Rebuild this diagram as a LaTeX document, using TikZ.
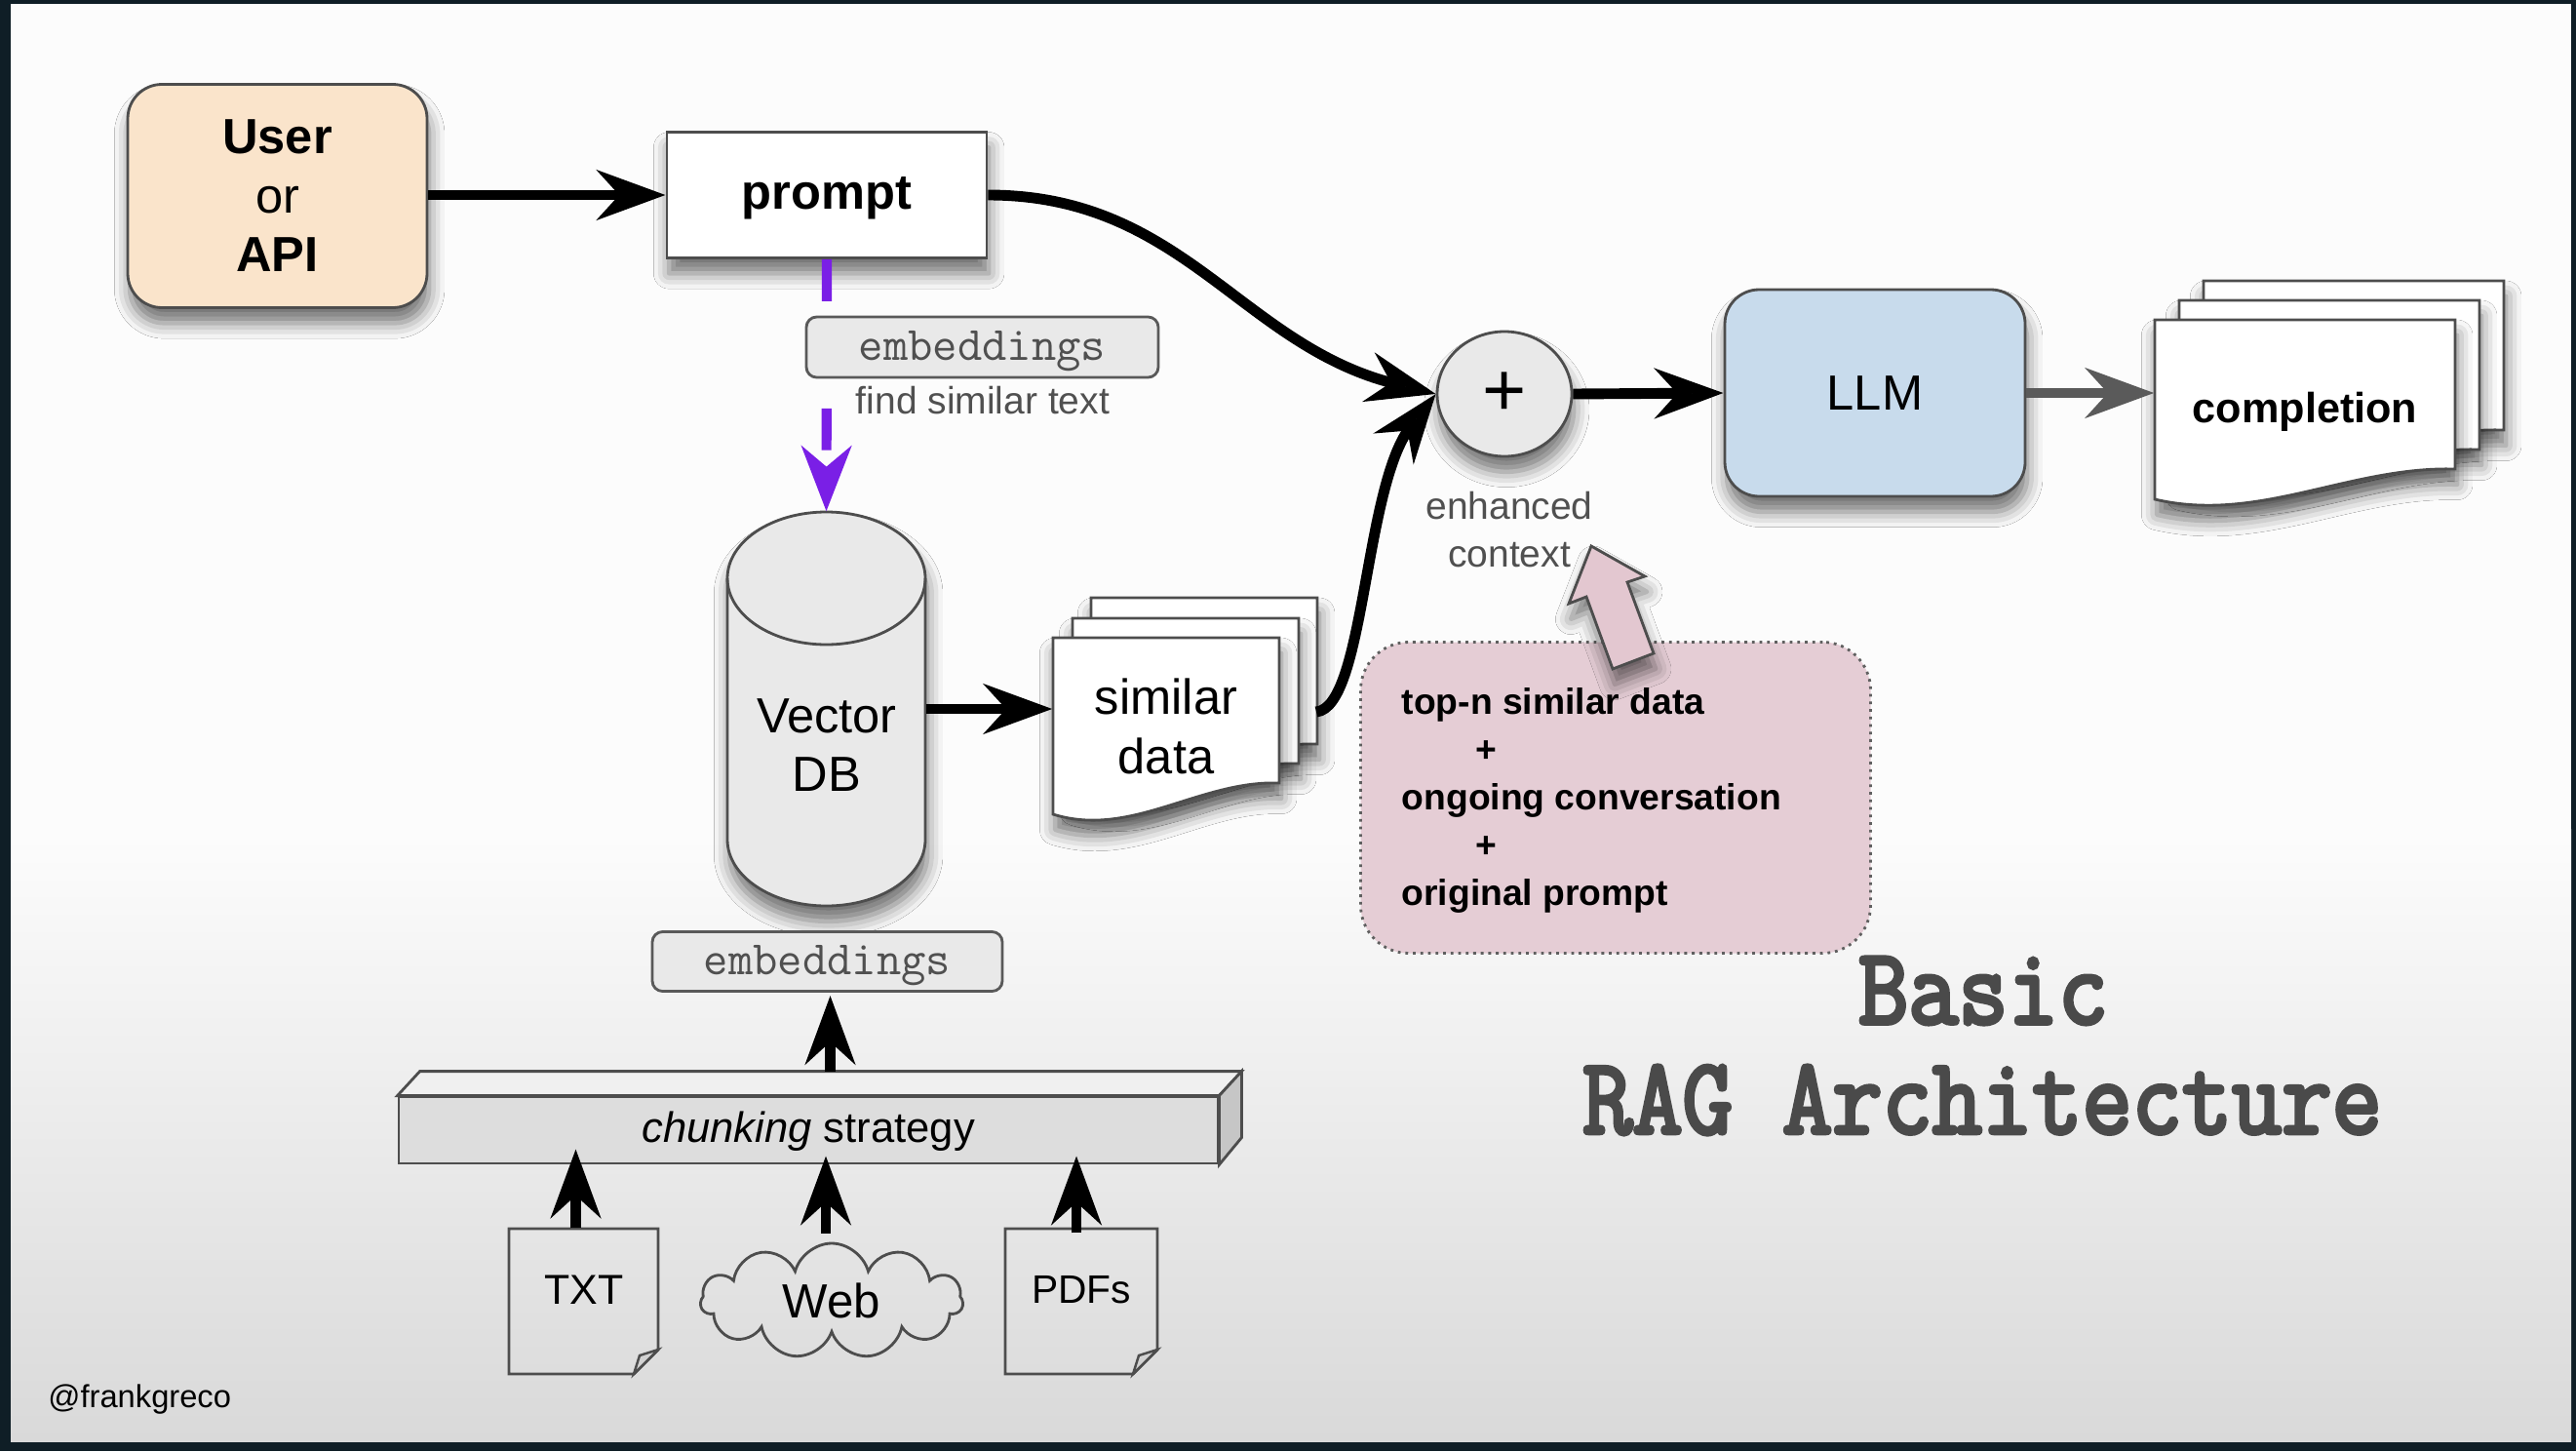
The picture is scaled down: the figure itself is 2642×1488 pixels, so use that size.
\documentclass[tikz,border=0pt]{standalone}
\usepackage{fontspec}
\setmainfont{Liberation Sans}
\setmonofont{Liberation Mono}
\newfontfamily\typefont{Latin Modern Mono}
\usetikzlibrary{arrows.meta,shapes.geometric,shapes.symbols,shadows.blur,calc}
\definecolor{framec}{HTML}{0F1E26}
\definecolor{peach}{HTML}{FAE4CB}
\definecolor{llmblue}{HTML}{C8DBEC}
\definecolor{pinkbox}{HTML}{E5CDD5}
\definecolor{pinkarrow}{HTML}{E3C7D0}
\definecolor{lgray}{HTML}{E9E9E9}
\definecolor{edgec}{HTML}{4D4D4D}
\definecolor{txtgray}{HTML}{505050}
\definecolor{purp}{HTML}{7A1FE6}
\definecolor{titlec}{HTML}{4A4A4A}
\definecolor{bgbot}{HTML}{D9D9D9}
\definecolor{arrgray}{HTML}{5A5A5A}
\newcommand{\heavytext}[2]{\special{pdf:literal direct 2 Tr #1 w}#2\special{pdf:literal direct 0 Tr}}
\newcommand{\wavydoc}[6]{%
  \path[#1] (#2,#3) -- (#2+#4,#3) -- (#2+#4,#6)
    .. controls (#2+0.647*#4,#6-3) and (#2+0.345*#4,#5+25) .. (#2,#5) -- cycle;}
\newcommand{\foldnote}[5]{%
  \path[#1] (#2,#3) -- (#4,#3) -- (#4,#5-25) -- (#4-25,#5) -- (#2,#5) -- cycle;
  \path[fill=gray!35, draw=edgec, line width=0.7pt] (#4,#5-25) -- (#4-25,#5) -- (#4-19,#5-19) -- cycle;}
\begin{document}
\begin{tikzpicture}[x=0.1mm, y=-0.1mm,
  shd/.style={blur shadow={shadow xshift=0.6pt, shadow yshift=-4.5pt, shadow blur radius=4.5pt, shadow opacity=55}},
  edgeline/.style={draw=edgec, line width=0.8pt},
  blkarrow/.style={line width=3.1pt, -{Stealth[length=20pt,width=14.5pt,inset=6.5pt]}},
  grayarrow/.style={blkarrow, draw=arrgray, fill=arrgray},
  purpline/.style={draw=purp, line width=2.9pt, dash pattern=on 12.2pt off 31.3pt, -{Stealth[length=19pt,width=14.5pt,inset=6pt,fill=purp]}},
  bigtext/.style={font=\fontsize{14.4}{17.2}\selectfont, align=center},
  graytext/.style={text=txtgray, font=\fontsize{11.1}{13.7}\selectfont, align=center},
  embsty/.style={edgeline, draw=gray!70!black, fill=lgray, rounded corners=3pt, text=txtgray, font=\typefont\fontsize{14}{16}\selectfont, inner sep=0pt, text height=0.84em, text depth=0.1em},
  docsty/.style={edgeline, fill=white, shd},
  notesty/.style={edgeline, fill=none},
  titlesty/.style={text=titlec, font=\typefont\fontsize{28.3}{32}\selectfont}
]
\useasboundingbox (0,0) rectangle (2642,1488);
% background and frame
\fill[framec] (0,0) rectangle (2642,1488);
\fill[white!98!gray] (11,4) rectangle (2637,851);
\shade[top color=white!98!gray, bottom color=bgbot] (11,850) rectangle (2637,1478);

% User / prompt
\node[bigtext, edgeline, fill=peach, rounded corners=10pt, minimum width=30.7mm, minimum height=22.9mm, shd] (user) at (284.5,201) {\textbf{User}\\or\\\textbf{API}};
\node[bigtext, edgeline, fill=white, minimum width=32.8mm, minimum height=12.9mm, shd, text height=1.05em, text depth=0.21em] (prompt) at (848,200) {\textbf{prompt}};
\draw[blkarrow] (user.east |- prompt.west) -- (prompt.west);

% vector DB cylinder
\path[fill=lgray, edgeline, shd] (746,593) -- (746,861)
  arc[start angle=180, end angle=360, x radius=10.15mm, y radius=6.8mm] -- (949,593)
  arc[start angle=0, end angle=180, x radius=10.15mm, y radius=6.8mm] -- cycle;
\draw[edgeline] (746,593) arc[start angle=180, end angle=360, x radius=10.15mm, y radius=6.8mm];
\node[minimum width=20.3mm, minimum height=40.4mm, inner sep=0pt] (db) at (847.5,727) {};
\node[bigtext] (dbtext) at (848,764) {Vector\\DB};

% purple path prompt -> DB
\draw[purpline] (prompt.south) -- (db.north);
\node[embsty, minimum width=36.1mm, minimum height=6.2mm] (emb1) at (1007.5,356) {embeddings};
\node[graytext] (fst) at (1008,411) {find similar text};

% similar data docs
\wavydoc{docsty}{1119}{613}{232}{795}{763}
\wavydoc{docsty}{1100}{634}{232}{815}{783}
\wavydoc{docsty}{1080}{654}{232}{835}{803}
\node[bigtext, minimum width=23.2mm, inner sep=0pt] (sim) at (1196,745) {similar\\data};
\coordinate (simr) at (1350,730);
\draw[blkarrow] (db.east) -- (db.east -| sim.west);

% plus, LLM, completion
\node[ellipse, edgeline, fill=lgray, minimum width=13.8mm, minimum height=12.8mm, inner sep=0pt, shd, font=\fontsize{22}{22}\selectfont] (plus) at (1543,404) {+};
\draw[blkarrow] (prompt.east) .. controls +(200,0) and +(-200,-50) .. (plus.west);
\draw[blkarrow] (simr) .. controls +(50,-5) and +(-74,96) .. (plus.west);
\node[bigtext, edgeline, fill=llmblue, rounded corners=10pt, minimum width=30.8mm, minimum height=21.2mm, shd] (llm) at (1923,403) {LLM};
\draw[blkarrow] (plus.east) -- (llm.west);
\wavydoc{docsty}{2260}{288}{308}{472}{441}
\wavydoc{docsty}{2235}{308}{308}{492}{461}
\wavydoc{docsty}{2210}{328}{308}{512}{481}
\node[font=\bfseries\fontsize{12.3}{15}\selectfont, minimum width=30.8mm, inner sep=0pt] (comp) at (2364,422) {completion};
\draw[grayarrow] (llm.east) -- (llm.east -| comp.west);
\node[graytext] (enh) at (1548,543) {enhanced\\context};

% context box and pink arrow
\node[draw=gray!75!black, line width=0.8pt, dash pattern=on 0.8pt off 1.4pt, fill=pinkbox, rounded corners=14pt, minimum width=52.3mm, minimum height=31.9mm] (ctx) at (1657,818) {};
\node[anchor=west, align=left, inner sep=0pt, font=\bfseries\fontsize{10.6}{13.9}\selectfont] (ctxt) at (1437,821) {top-n similar data\\\hspace*{21.5pt}+\\ongoing conversation\\\hspace*{21.5pt}+\\original prompt};
\path[fill=pinkarrow, edgeline, shd] (1654,686) -- (1627,612) -- (1609,619) -- (1632,560) -- (1687,591) -- (1669,597) -- (1696,670) -- cycle;

% title
\node[titlesty] (t1) at (2034,1016) {\scalebox{1}[1.12]{\heavytext{1.1}{Basic}}};
\node[titlesty] (t2) at (2033,1128) {\scalebox{1}[1.12]{\heavytext{1.1}{RAG Architecture}}};

% lower part
\node[embsty, minimum width=35.9mm, minimum height=6.1mm] (emb2) at (848.5,986) {embeddings};
\node[minimum width=84mm, minimum height=6.8mm, inner sep=0pt, edgeline, fill=lgray!95!black] (bar) at (829,1159) {};
\path[edgeline, fill=lgray!70!white] (bar.north west) -- ++(23,-25) -- ($(bar.north east)+(23,-25)$) -- (bar.north east) -- cycle;
\path[edgeline, fill=gray!45] (bar.north east) -- ++(23,-25) -- ++(0,68) -- (bar.south east) -- cycle;
\node[font=\fontsize{12.4}{15}\selectfont] (bartext) at (829,1160) {\textit{chunking} strategy};
\draw[blkarrow] ($(bar.north -| emb2.south)+(3,-25)$) -- ($(emb2.south)+(3,3)$);

\foldnote{notesty}{522}{1260}{675}{1409}
\node[minimum width=15.3mm, minimum height=14.9mm, inner sep=0pt] (txt) at (598.5,1334.5) {};
\node[font=\fontsize{12.2}{14}\selectfont] (txtl) at (599,1323) {TXT};
\foldnote{notesty}{1031}{1260}{1187}{1409}
\node[minimum width=15.6mm, minimum height=14.9mm, inner sep=0pt] (pdf) at (1109,1334.5) {};
\node[font=\fontsize{11.6}{14}\selectfont] (pdfl) at (1109,1323) {PDFs};
\node[cloud, cloud puffs=11, aspect=2.3, edgeline, minimum width=26.9mm, minimum height=11.8mm, inner sep=0pt, font=\fontsize{14}{16}\selectfont] (web) at (853,1334) {Web};

\draw[blkarrow] ($(txt.north)+(-8,0)$) -- ($(bar.south -| txt.north)+(-8,-16)$);
\draw[blkarrow] ($(web.north)+(-6,-9)$) -- ($(bar.south -| web.north)+(-6,-9)$);
\draw[blkarrow] ($(pdf.north)+(-5,5)$) -- ($(bar.south -| pdf.north)+(-5,-9)$);

\node[anchor=west, font=\fontsize{9.3}{11}\selectfont] (frank) at (37,1435) {@frankgreco};
\end{tikzpicture}
\end{document}
